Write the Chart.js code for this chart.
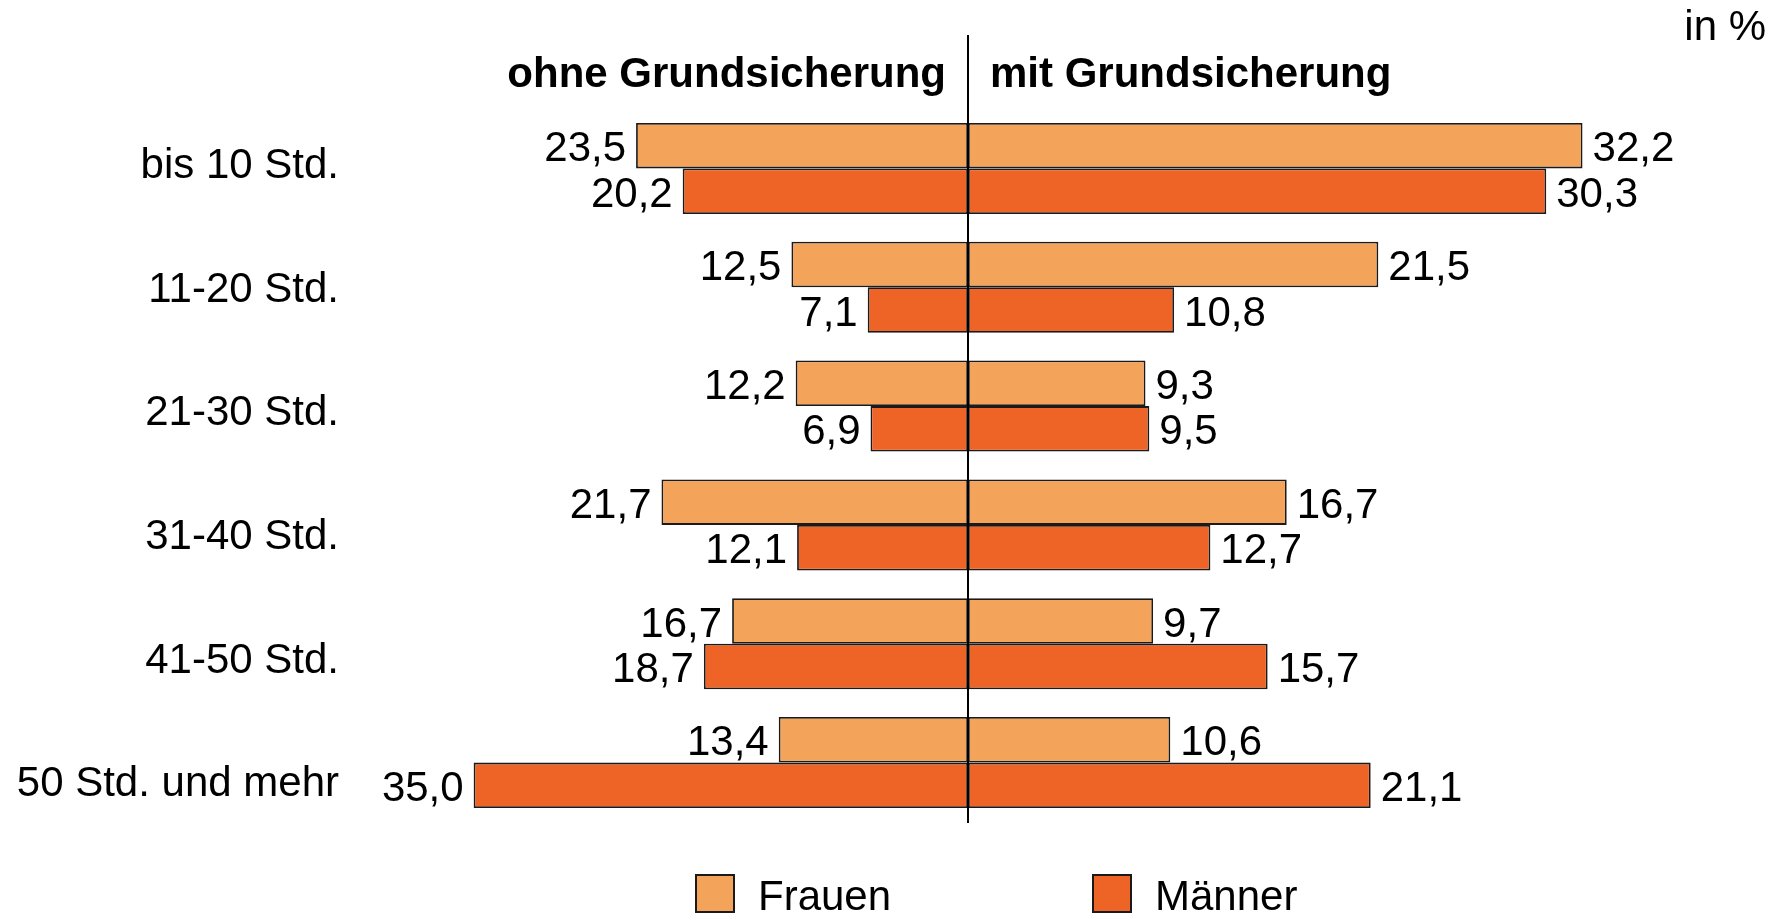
<!DOCTYPE html>
<html lang="de">
<head>
<meta charset="utf-8">
<title>Arbeitszeit mit und ohne Grundsicherung</title>
<script src="https://cdn.jsdelivr.net/npm/chart.js@4.4.1/dist/chart.umd.min.js"></script>
<style>
  html, body { margin: 0; padding: 0; background: #fff; }
  #wrap { width: 1781px; height: 914px; }
</style>
</head>
<body>
<div id="wrap"><canvas id="chart" width="1781" height="914"></canvas></div>
<script>
// Werte in %
const categories = ['bis 10 Std.', '11-20 Std.', '21-30 Std.', '31-40 Std.', '41-50 Std.', '50 Std. und mehr'];
const frauenOhne = [23.5, 12.5, 12.2, 21.7, 16.7, 13.4];
const maennerOhne = [20.2, 7.1, 6.9, 12.1, 18.7, 35.0];
const frauenMit = [32.2, 21.5, 9.3, 16.7, 9.7, 10.6];
const maennerMit = [30.3, 10.8, 9.5, 12.7, 15.7, 21.1];
const legendLabels = ['Frauen', 'Männer'];
const headers = ['ohne Grundsicherung', 'mit Grundsicherung'];

const COLOR_F = '#F4A35A';
const COLOR_M = '#EE6427';
const BORDER = '#1a1a1a';
const FONT = "'Liberation Sans', Arial, Helvetica, sans-serif";

Chart.defaults.font.family = FONT;
Chart.defaults.color = '#000';

const fmt = v => v.toFixed(1).replace('.', ',');

// value labels next to each bar end
const valueLabels = {
    id: 'valueLabels',
    afterDatasetsDraw(chart) {
        const ctx = chart.ctx;
        ctx.save();
        ctx.font = '42px ' + FONT;
        ctx.fillStyle = '#000';
        ctx.textBaseline = 'middle';
        chart.data.datasets.forEach((ds, i) => {
            const meta = chart.getDatasetMeta(i);
            const left = ds.xAxisID === 'xl';
            meta.data.forEach((bar, j) => {
                ctx.textAlign = left ? 'right' : 'left';
                ctx.fillText(fmt(ds.data[j]), bar.x + (left ? -10 : 10), bar.y + 4);
            });
        });
        ctx.restore();
    }
};

// category labels: in the original they are spread a little wider than the bar groups
const categoryLabels = {
    id: 'categoryLabels',
    afterDraw(chart) {
        const ctx = chart.ctx;
        const y = chart.scales.y;
        ctx.save();
        ctx.font = '42px ' + FONT;
        ctx.fillStyle = '#000';
        ctx.textAlign = 'right';
        ctx.textBaseline = 'middle';
        categories.forEach((c, i) => {
            ctx.fillText(c, y.right - 64, y.getPixelForValue(i) - 2 + i * 4.8);
        });
        ctx.restore();
    }
};

// centre line, column headers, unit, legend
const decorations = {
    id: 'decorations',
    afterDatasetsDraw(chart) {
        const ctx = chart.ctx;
        const area = chart.chartArea;
        const cx = chart.scales.xr.getPixelForValue(0);
        ctx.save();
        ctx.strokeStyle = '#000';
        ctx.lineWidth = 2;
        ctx.beginPath();
        ctx.moveTo(cx, 35);
        ctx.lineTo(cx, area.bottom + 1);
        ctx.stroke();

        ctx.fillStyle = '#000';
        ctx.textBaseline = 'alphabetic';
        ctx.font = 'bold 42px ' + FONT;
        ctx.textAlign = 'right';
        ctx.fillText(headers[0], cx - 22, 87);
        ctx.textAlign = 'left';
        ctx.fillText(headers[1], cx + 22, 87);

        ctx.font = '42px ' + FONT;
        ctx.textAlign = 'right';
        ctx.fillText('in %', 1766, 40);

        // legend
        const items = [
            { text: legendLabels[0], color: chart.data.datasets[0].backgroundColor, x: cx - 272 },
            { text: legendLabels[1], color: chart.data.datasets[1].backgroundColor, x: cx + 125 }
        ];
        ctx.lineWidth = 2;
        ctx.textAlign = 'left';
        items.forEach(it => {
            ctx.fillStyle = it.color;
            ctx.fillRect(it.x, 875, 38, 37);
            ctx.strokeStyle = BORDER;
            ctx.strokeRect(it.x, 875, 38, 37);
            ctx.fillStyle = '#000';
            ctx.fillText(it.text, it.x + 62, 910);
        });
        ctx.restore();
    }
};

const barStyle = {
    borderColor: BORDER,
    borderWidth: 1.8,
    borderSkipped: false,
    categoryPercentage: 0.766,
    barPercentage: 1
};

new Chart(document.getElementById('chart'), {
    type: 'bar',
    data: {
        labels: categories,
        datasets: [
            { label: 'Frauen ohne', data: frauenOhne, backgroundColor: COLOR_F, xAxisID: 'xl', stack: 'F', ...barStyle },
            { label: 'Männer ohne', data: maennerOhne, backgroundColor: COLOR_M, xAxisID: 'xl', stack: 'M', ...barStyle },
            { label: 'Frauen mit', data: frauenMit, backgroundColor: COLOR_F, xAxisID: 'xr', stack: 'F', ...barStyle },
            { label: 'Männer mit', data: maennerMit, backgroundColor: COLOR_M, xAxisID: 'xr', stack: 'M', ...barStyle }
        ]
    },
    options: {
        indexAxis: 'y',
        responsive: false,
        animation: false,
        devicePixelRatio: 1,
        layout: { padding: { left: 0, right: 0, top: 109, bottom: 92 } },
        plugins: {
            legend: { display: false },
            tooltip: { enabled: false }
        },
        scales: {
            y: {
                position: 'left',
                grid: { display: false, drawTicks: false },
                border: { display: false },
                ticks: { display: false },
                afterFit: scale => { scale.width = 403; }
            },
            xl: {
                type: 'linear',
                position: 'bottom',
                stack: 'x',
                stackWeight: 565,
                weight: 1,
                reverse: true,
                min: 0,
                max: 40,
                display: false
            },
            xr: {
                type: 'linear',
                position: 'bottom',
                stack: 'x',
                stackWeight: 813,
                weight: 2,
                min: 0,
                max: 42.6,
                display: false
            }
        }
    },
    plugins: [valueLabels, categoryLabels, decorations]
});
</script>
</body>
</html>
